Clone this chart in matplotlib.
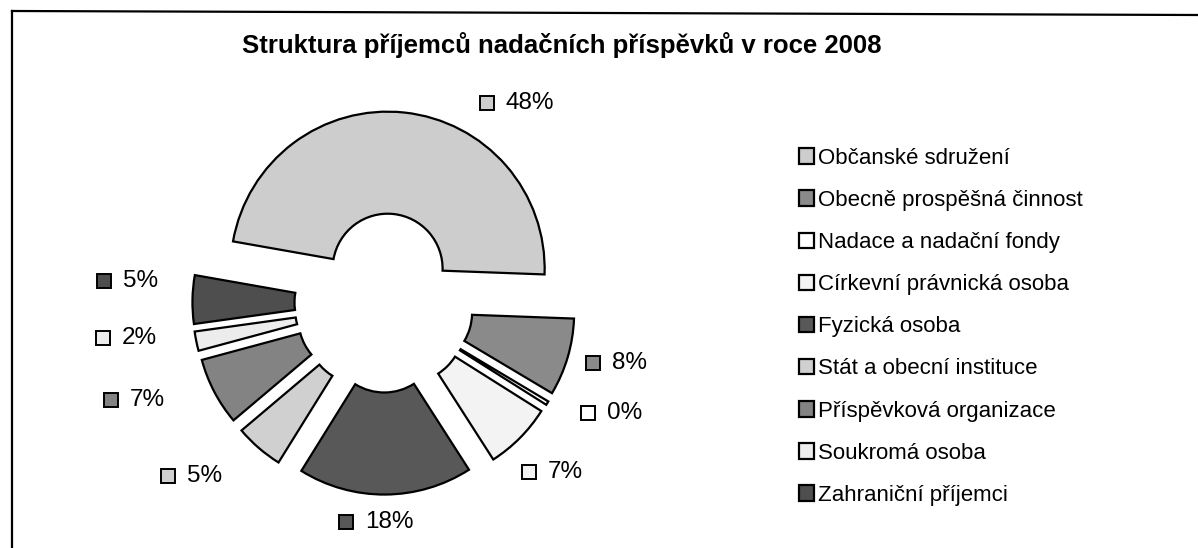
import matplotlib.pyplot as plt
from matplotlib.lines import Line2D

plt.rcParams['font.family'] = ['Liberation Sans', 'DejaVu Sans']

# data
categories = ['Občanské sdružení', 'Obecně prospěšná činnost', 'Nadace a nadační fondy',
              'Církevní právnická osoba', 'Fyzická osoba', 'Stát a obecní instituce',
              'Příspěvková organizace', 'Soukromá osoba', 'Zahraniční příjemci']
shares = [48, 8, 0.4, 7, 18, 5, 7, 2, 5]
colors = ['#cdcdcd', '#8a8a8a', '#ffffff', '#f3f3f3', '#585858',
          '#d0d0d0', '#838383', '#ececec', '#4e4e4e']

# layout: label marker positions (in units of radius, from the centre)
label_xy = [(0.656, 1.274), (1.331, -0.382), (1.299, -0.701), (0.924, -1.076),
            (-0.242, -1.395), (-1.376, -1.102), (-1.739, -0.618), (-1.790, -0.223),
            (-1.783, 0.140)]

W, H = 1198, 548
R = 157.0          # radius in pixels
cx, cy = 384, 303  # centre in pixels (from top-left)

fig = plt.figure(figsize=(W / 100, H / 100), dpi=100)
ax = fig.add_axes([0, 0, 1, 1])

wedges, _ = ax.pie(shares, colors=colors, startangle=170, counterclock=False,
                   explode=[0.22] * len(shares), radius=1.0,
                   wedgeprops=dict(width=0.65, edgecolor='black', linewidth=1.6))

ax.set_xlim(-cx / R, (W - cx) / R)
ax.set_ylim(-(H - cy) / R, cy / R)
ax.set_aspect('auto')
ax.axis('off')

# data labels: small square + percent
for v, c, (lx, ly) in zip(shares, colors, label_xy):
    ax.plot(lx, ly, marker='s', markersize=10, markerfacecolor=c,
            markeredgecolor='black', markeredgewidth=1.4, linestyle='none')
    ax.text(lx + 0.12, ly, f'{round(v):.0f}%', fontsize=17.5, va='center', ha='left')

# title
fig.text(562 / W, 1 - 45 / H, 'Struktura příjemců nadačních příspěvků v roce 2008',
         fontsize=18.5, fontweight='bold', ha='center', va='center')

# legend
fig.legend(wedges, categories, loc='upper left', bbox_to_anchor=(790 / W, 1 - 139 / H),
           frameon=False, fontsize=16, handlelength=0.7, handleheight=0.7,
           handletextpad=0.15, labelspacing=0.95, borderaxespad=0)

# scanned frame (top and left only)
fig.add_artist(Line2D([12 / W, 1], [1 - 11 / H, 1 - 15 / H], color='black', lw=1.6,
                      transform=fig.transFigure))
fig.add_artist(Line2D([12 / W, 12 / W], [1 - 11 / H, 0], color='black', lw=1.6,
                      transform=fig.transFigure))

fig.savefig('out.png', dpi=100, facecolor='white')
